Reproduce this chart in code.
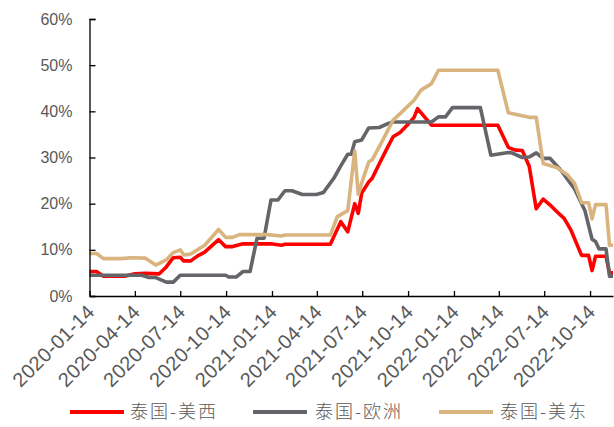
<!DOCTYPE html>
<html>
<head>
<meta charset="utf-8">
<script src="https://cdn.jsdelivr.net/npm/d3@7"></script>
<style>
  body { margin: 0; background: #ffffff; }
</style>
</head>
<body>
<script>
// Series data (percent values, weekly change points)
let westDates = ["2020-01-14", "2020-01-28", "2020-02-11", "2020-03-24", "2020-04-14", "2020-05-05", "2020-06-02", "2020-06-16", "2020-06-30", "2020-07-14", "2020-07-21", "2020-08-04", "2020-08-18", "2020-09-01", "2020-09-29", "2020-10-13", "2020-10-27", "2020-11-17", "2021-01-12", "2021-02-02", "2021-02-09", "2021-05-11", "2021-06-01", "2021-06-15", "2021-06-29", "2021-07-06", "2021-07-13", "2021-07-27", "2021-08-03", "2021-08-17", "2021-08-31", "2021-09-14", "2021-09-28", "2021-10-12", "2021-10-26", "2021-11-02", "2021-11-30", "2022-04-12", "2022-05-03", "2022-05-17", "2022-05-31", "2022-06-14", "2022-06-28", "2022-07-12", "2022-07-26", "2022-08-09", "2022-08-23", "2022-09-06", "2022-09-27", "2022-10-11", "2022-10-18", "2022-10-25", "2022-11-15", "2022-11-22", "2022-11-29"];
let westValues = [5.3, 5.3, 4.3, 4.3, 4.8, 4.9, 4.8, 6.3, 8.3, 8.4, 7.6, 7.6, 8.7, 9.5, 12.2, 10.7, 10.7, 11.3, 11.3, 11.0, 11.2, 11.2, 16.1, 13.9, 20.0, 17.9, 22.3, 24.7, 25.5, 28.6, 31.6, 34.5, 35.4, 37.0, 38.7, 40.6, 37.0, 37.0, 32.2, 31.6, 31.5, 28.1, 18.9, 21.0, 19.7, 18.2, 16.8, 14.2, 8.8, 8.8, 5.5, 8.6, 8.6, 5.0, 5.0];

let europeDates = ["2020-01-14", "2020-04-28", "2020-05-12", "2020-05-26", "2020-06-16", "2020-06-30", "2020-07-14", "2020-10-13", "2020-10-20", "2020-11-03", "2020-11-17", "2020-12-01", "2020-12-15", "2020-12-29", "2021-01-12", "2021-01-26", "2021-02-09", "2021-02-23", "2021-03-16", "2021-04-13", "2021-04-27", "2021-05-18", "2021-06-01", "2021-06-15", "2021-06-22", "2021-06-29", "2021-07-13", "2021-07-27", "2021-08-17", "2021-08-31", "2021-09-14", "2021-11-30", "2021-12-14", "2021-12-28", "2022-01-11", "2022-03-08", "2022-03-29", "2022-05-03", "2022-05-10", "2022-05-31", "2022-06-14", "2022-06-28", "2022-07-12", "2022-07-26", "2022-08-16", "2022-09-13", "2022-10-04", "2022-10-11", "2022-10-18", "2022-10-25", "2022-11-01", "2022-11-15", "2022-11-22", "2022-11-29"];
let europeValues = [4.5, 4.5, 4.0, 4.0, 3.0, 3.0, 4.5, 4.5, 4.1, 4.1, 5.3, 5.3, 12.5, 12.5, 20.8, 20.8, 22.8, 22.8, 22.0, 22.0, 22.4, 25.5, 28.2, 30.7, 30.7, 33.4, 33.8, 36.4, 36.5, 37.2, 37.7, 37.7, 38.8, 38.8, 40.8, 40.8, 30.5, 31.1, 31.0, 30.0, 30.1, 31.0, 29.8, 29.8, 27.3, 23.2, 18.4, 15.3, 12.3, 11.8, 10.2, 10.2, 4.3, 4.3];

let eastDates = ["2020-01-14", "2020-01-28", "2020-02-11", "2020-03-17", "2020-04-07", "2020-05-05", "2020-05-26", "2020-06-16", "2020-06-30", "2020-07-14", "2020-07-21", "2020-08-04", "2020-09-01", "2020-09-29", "2020-10-13", "2020-10-27", "2020-11-10", "2021-01-05", "2021-02-02", "2021-02-09", "2021-05-11", "2021-05-25", "2021-06-15", "2021-06-29", "2021-07-06", "2021-07-13", "2021-07-27", "2021-08-03", "2021-08-17", "2021-09-14", "2021-09-28", "2021-10-26", "2021-11-09", "2021-11-30", "2021-12-14", "2022-04-12", "2022-05-03", "2022-05-24", "2022-06-14", "2022-06-28", "2022-07-12", "2022-08-09", "2022-08-30", "2022-09-13", "2022-09-27", "2022-10-11", "2022-10-18", "2022-10-25", "2022-11-15", "2022-11-22", "2022-11-29"];
let eastValues = [9.2, 9.2, 8.1, 8.1, 8.3, 8.2, 6.7, 7.8, 9.4, 10.0, 8.9, 9.1, 11.0, 14.4, 12.7, 12.7, 13.3, 13.3, 13.0, 13.2, 13.2, 17.2, 18.5, 31.4, 22.0, 24.5, 29.0, 29.5, 32.3, 38.1, 39.5, 42.4, 44.6, 46.0, 48.9, 48.9, 39.7, 39.2, 38.7, 38.7, 28.7, 27.8, 26.2, 24.4, 20.2, 20.2, 16.7, 19.8, 19.8, 11.0, 11.0];

let seriesNames = ["泰国-美西", "泰国-欧洲", "泰国-美东"];
let seriesColors = ["#ff0000", "#636569", "#d9b47f"];

let tickDates = ["2020-01-14", "2020-04-14", "2020-07-14", "2020-10-14", "2021-01-14", "2021-04-14", "2021-07-14", "2021-10-14", "2022-01-14", "2022-04-14", "2022-07-14", "2022-10-14"];
let yTicks = [0, 10, 20, 30, 40, 50, 60];

// Define dimensions
let width = 614;
let height = 427;
let margin = { top: 19, bottom: 131, left: 89.5, right: 1 };

let parseDate = d3.timeParse("%Y-%m-%d");

let series = [
  { name: seriesNames[0], color: seriesColors[0], dates: westDates, values: westValues },
  { name: seriesNames[1], color: seriesColors[1], dates: europeDates, values: europeValues },
  { name: seriesNames[2], color: seriesColors[2], dates: eastDates, values: eastValues },
].map((s) => ({
  ...s,
  points: s.dates.map((d, i) => ({ date: parseDate(d), value: s.values[i] })),
}));

// Create SVG
let svg = d3
  .select("body")
  .append("svg")
  .attr("width", width)
  .attr("height", height)
  .style("font-family", "'Liberation Sans', Arial, sans-serif");

// Scales
let xScale = d3
  .scaleTime()
  .domain([parseDate("2020-01-14"), parseDate("2022-11-29")])
  .range([margin.left, width - margin.right]);

let yScale = d3
  .scaleLinear()
  .domain([0, 60])
  .range([height - margin.bottom, margin.top]);

// Lines (drawn in legend order)
let line = d3
  .line()
  .x((d) => xScale(d.date))
  .y((d) => yScale(d.value));

svg
  .selectAll(".series")
  .data(series)
  .join("path")
  .attr("class", "series")
  .attr("d", (d) => line(d.points))
  .attr("fill", "none")
  .attr("stroke", (d) => d.color)
  .attr("stroke-width", 3.6)
  .attr("stroke-linejoin", "round");

// Y axis
let yAxis = svg
  .append("g")
  .attr("transform", `translate(${margin.left}, 0)`)
  .call(
    d3
      .axisRight(yScale)
      .tickValues(yTicks)
      .tickSize(6)
      .tickFormat((d) => d + "%"),
  );

yAxis.select(".domain").attr("stroke", "#000").attr("stroke-width", 1.3);
yAxis.selectAll(".tick line").attr("stroke", "#000").attr("stroke-width", 1.3);
yAxis
  .selectAll(".tick text")
  .attr("x", -17)
  .attr("text-anchor", "end")
  .attr("fill", "#595959")
  .style("font-size", "16px");

// X axis
let xAxis = svg
  .append("g")
  .attr("transform", `translate(0, ${yScale(0)})`)
  .call(
    d3
      .axisTop(xScale)
      .tickValues(tickDates.map(parseDate))
      .tickSize(5)
      .tickSizeOuter(0)
      .tickFormat(d3.timeFormat("%Y-%m-%d")),
  );

xAxis.select(".domain").attr("stroke", "#000").attr("stroke-width", 1.6);
xAxis.selectAll(".tick line").attr("stroke", "#000").attr("stroke-width", 1.3);
xAxis
  .selectAll(".tick text")
  .attr("x", 0)
  .attr("y", 0)
  .attr("dy", 0)
  .attr("text-anchor", "end")
  .attr("transform", "translate(6, 17) rotate(-45)")
  .attr("fill", "#595959")
  .style("font-size", "20px")
  .style("letter-spacing", "0.4px");

// Legend
let legendItems = [
  { x: 70, textX: 130 },
  { x: 253, textX: 315 },
  { x: 439, textX: 500 },
];

let legend = svg
  .selectAll(".legend")
  .data(series)
  .join("g")
  .attr("class", "legend");

legend
  .append("line")
  .attr("x1", (d, i) => legendItems[i].x)
  .attr("x2", (d, i) => legendItems[i].x + 54)
  .attr("y1", 412)
  .attr("y2", 412)
  .attr("stroke", (d) => d.color)
  .attr("stroke-width", 4);

legend
  .append("text")
  .attr("x", (d, i) => legendItems[i].textX)
  .attr("y", 412)
  .attr("dy", "0.35em")
  .text((d) => d.name)
  .attr("fill", "#595959")
  .style("font-family", "'Noto Sans CJK SC', sans-serif")
  .style("font-size", "18px")
  .style("font-weight", 300)
  .style("letter-spacing", "2px");
</script>
</body>
</html>
